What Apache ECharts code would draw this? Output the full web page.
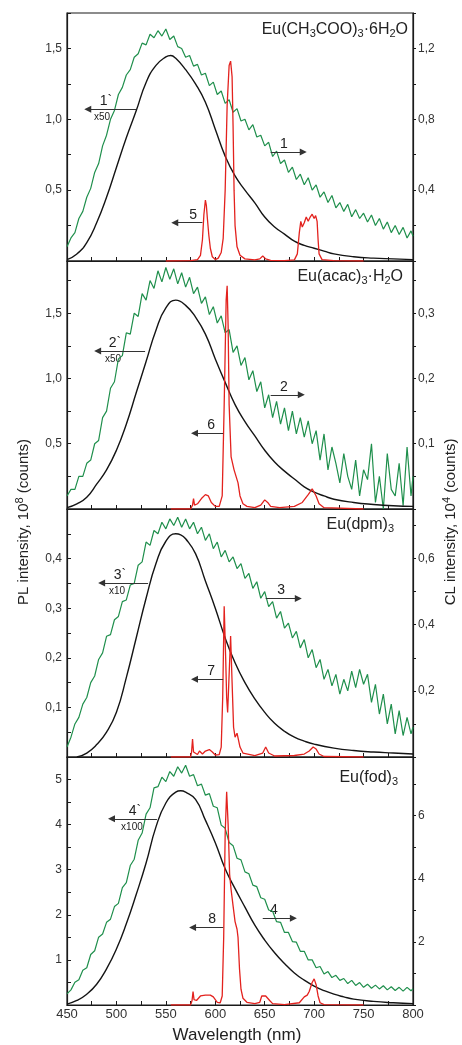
<!DOCTYPE html>
<html>
<head>
<meta charset="UTF-8">
<title>PL / CL spectra of Eu complexes</title>
<style>
  html, body { margin: 0; padding: 0; background: #fff; }
  #main { width: 462px; height: 1045px; }
</style>
</head>
<body>
<div id="main"></div>
<script src="https://cdn.jsdelivr.net/npm/echarts@6.0.0/dist/echarts.min.js"></script>
<script type="text/javascript">
// wavelength grid of the CL (green) curves, nm
const wl = [450,454,458,462,466,470,474,478,482,486,
            490,494,498,502,506,510,514,518,522,526,
            530,534,538,542,546,550,554,558,562,566,
            570,574,578,582,586,590,594,598,602,606,
            610,614,618,622,626,630,634,638,642,646,
            650,654,658,662,666,670,674,678,682,686,
            690,694,698,702,706,710,714,718,722,726,
            730,734,738,742,746,750,754,758,762,766,
            770,774,778,782,786,790,794,798,800];

// CL curves 1..4 (right axes)
const cl1 = [0.08,0.13,0.16,0.24,0.28,0.36,0.41,0.50,0.55,0.65,
             0.71,0.80,0.85,0.94,0.98,1.05,1.08,1.15,1.17,1.23,
             1.22,1.28,1.26,1.30,1.27,1.31,1.25,1.27,1.21,1.20,
             1.15,1.16,1.10,1.11,1.05,1.06,0.99,1.01,0.94,0.96,
             0.89,0.91,0.84,0.86,0.79,0.80,0.74,0.77,0.70,0.71,
             0.65,0.67,0.59,0.62,0.55,0.57,0.50,0.53,0.46,0.49,
             0.43,0.47,0.40,0.43,0.36,0.39,0.33,0.37,0.30,0.33,
             0.28,0.32,0.25,0.29,0.24,0.27,0.22,0.26,0.20,0.24,
             0.18,0.22,0.16,0.20,0.15,0.19,0.13,0.17,0.14];
const cl2 = [0.02,0.03,0.03,0.05,0.05,0.07,0.075,0.10,0.105,0.14,
             0.15,0.185,0.195,0.23,0.235,0.27,0.268,0.30,0.295,0.33,
             0.32,0.35,0.338,0.365,0.348,0.37,0.352,0.368,0.345,0.362,
             0.34,0.355,0.33,0.34,0.315,0.325,0.298,0.31,0.285,0.296,
             0.27,0.275,0.24,0.25,0.22,0.232,0.198,0.212,0.18,0.195,
             0.155,0.175,0.14,0.165,0.13,0.155,0.12,0.15,0.115,0.14,
             0.11,0.135,0.10,0.12,0.075,0.115,0.06,0.095,0.07,0.04,
             0.085,0.05,0.03,0.075,0.02,0.06,0.045,0.10,0.01,0.05,
             0.0,0.085,0.03,0.02,0.07,0.005,0.095,0.02,0.05];
const cl3 = [0.03,0.06,0.10,0.12,0.16,0.18,0.225,0.245,0.295,0.315,
             0.365,0.37,0.415,0.425,0.47,0.475,0.52,0.525,0.58,0.59,
             0.65,0.64,0.685,0.675,0.71,0.69,0.72,0.70,0.725,0.695,
             0.72,0.69,0.71,0.675,0.695,0.655,0.675,0.63,0.65,0.605,
             0.625,0.59,0.605,0.57,0.585,0.54,0.555,0.51,0.53,0.48,
             0.50,0.455,0.47,0.42,0.44,0.39,0.405,0.36,0.38,0.33,
             0.355,0.30,0.325,0.27,0.295,0.235,0.265,0.215,0.25,0.19,
             0.235,0.20,0.26,0.21,0.265,0.22,0.25,0.165,0.22,0.13,
             0.19,0.10,0.16,0.07,0.14,0.065,0.12,0.07,0.09];
const cl4 = [0.35,0.48,0.72,0.80,1.10,1.18,1.60,1.72,2.15,2.25,
             2.62,2.72,3.12,3.22,3.72,3.88,4.42,4.62,5.22,5.45,
             6.05,6.25,6.88,6.92,7.22,7.08,7.40,7.25,7.55,7.35,
             7.60,7.25,7.30,6.95,7.00,6.65,6.70,6.30,6.25,5.70,
             5.60,5.15,5.05,4.65,4.60,4.22,4.16,3.80,3.75,3.40,
             3.35,3.01,2.97,2.64,2.62,2.30,2.30,2.01,1.99,1.70,
             1.70,1.43,1.43,1.18,1.22,0.98,1.06,0.87,0.94,0.78,
             0.84,0.68,0.78,0.62,0.71,0.56,0.66,0.53,0.63,0.51,
             0.61,0.48,0.58,0.46,0.56,0.44,0.56,0.45,0.52];

// PL curves 1`..4` (black, left axes), [nm, value]
const pl1 = [[450,0.01],[460,0.05],[470,0.13],[480,0.27],[490,0.45],[500,0.66],[510,0.87],[520,1.06],
             [530,1.26],[540,1.38],[550,1.44],[555,1.45],[560,1.43],[570,1.35],[580,1.25],[590,1.12],
             [600,0.93],[610,0.74],[620,0.60],[630,0.50],[640,0.41],[650,0.31],[660,0.24],[670,0.19],
             [680,0.14],[690,0.11],[700,0.09],[710,0.07],[720,0.05],[740,0.03],[760,0.02],[780,0.015],[800,0.01]];
const pl2 = [[450,0.01],[460,0.04],[470,0.09],[480,0.19],[490,0.30],[500,0.45],[510,0.65],[520,0.89],
             [530,1.13],[540,1.37],[550,1.54],[560,1.60],[570,1.56],[580,1.47],[590,1.34],[600,1.15],
             [610,0.97],[620,0.80],[630,0.67],[640,0.56],[650,0.45],[660,0.36],[670,0.29],[680,0.23],
             [690,0.17],[700,0.13],[710,0.10],[720,0.075],[740,0.05],[760,0.035],[780,0.025],[800,0.02]];
const pl3 = [[460,0.0],[470,0.008],[480,0.025],[490,0.05],[500,0.09],[510,0.16],[520,0.24],[530,0.32],
             [540,0.39],[550,0.435],[560,0.45],[565,0.448],[570,0.44],[580,0.41],[590,0.355],[600,0.30],
             [610,0.24],[620,0.19],[630,0.15],[640,0.117],[650,0.09],[660,0.068],[670,0.052],[680,0.04],
             [690,0.032],[700,0.026],[720,0.018],[740,0.013],[760,0.01],[780,0.008],[800,0.006]];
const pl4 = [[450,0.02],[460,0.10],[470,0.24],[480,0.46],[490,0.80],[500,1.24],[510,1.80],[520,2.45],
             [530,3.15],[540,3.95],[550,4.48],[560,4.72],[565,4.75],[570,4.72],[580,4.56],[590,4.10],
             [600,3.60],[610,3.02],[620,2.58],[630,2.17],[640,1.77],[650,1.44],[660,1.16],[670,0.92],
             [680,0.71],[690,0.55],[700,0.42],[710,0.32],[720,0.24],[730,0.18],[740,0.13],[760,0.08],
             [780,0.05],[800,0.03]];

// PL line spectra 5..8 (red, left axes)
const ln5 = [[550,0],[575,0.002],[582,0.01],[585,0.04],[587,0.15],[588.5,0.33],[590,0.43],[591,0.39],
             [592,0.30],[593.5,0.18],[595,0.09],[597,0.03],[600,0.01],[603,0.02],[606,0.06],[608,0.16],
             [610,0.5],[612,1.1],[614,1.38],[615.5,1.41],[617,1.3],[618,0.95],[619,0.5],[620,0.25],
             [622,0.1],[625,0.04],[630,0.015],[640,0.008],[645,0.015],[648,0.035],[651,0.015],[656,0.005],
             [670,0.003],[680,0.008],[683,0.05],[685,0.2],[686.5,0.28],[688,0.24],[690,0.27],[692,0.31],
             [694,0.28],[696,0.31],[698,0.33],[700,0.30],[701.5,0.32],[703,0.28],[704,0.15],[705,0.05],
             [708,0.01],[720,0.003],[750,0]];
const ln6 = [[555,0],[575,0],[577,0.03],[578,0.08],[579,0.03],[582,0.04],[586,0.08],[590,0.11],
             [593,0.10],[596,0.05],[600,0.02],[604,0.02],[607,0.1],[609,0.8],[611,1.6],[612,1.71],
             [613,1.4],[614,0.8],[616,0.4],[619,0.3],[621,0.29],[623,0.2],[625,0.1],[628,0.04],
             [632,0.02],[640,0.01],[646,0.03],[650,0.07],[653,0.05],[656,0.02],[665,0.01],[680,0.02],
             [688,0.05],[694,0.11],[698,0.155],[700,0.15],[702,0.1],[705,0.04],[710,0.01],[750,0]];
const ln7 = [[555,0],[575,0],[576,0.01],[577,0.036],[578,0.01],[582,0.005],[584,0.012],[587,0.006],
             [590,0.012],[594,0.015],[597,0.01],[600,0.004],[604,0.005],[606,0.02],[607.5,0.12],[609,0.304],
             [610.5,0.2],[611.5,0.12],[612.5,0.09],[613.5,0.14],[615.5,0.244],[617,0.15],[618.5,0.06],
             [620,0.04],[622,0.048],[623,0.044],[625,0.02],[628,0.008],[640,0.003],[648,0.008],[651,0.02],
             [654,0.008],[660,0.002],[680,0.003],[690,0.006],[695,0.012],[699,0.02],[702,0.016],
             [705,0.006],[710,0.001],[750,0]];
const ln8 = [[555,0],[575,0.0],[576.5,0.1],[577.5,0.3],[578.5,0.12],[581,0.1],[585,0.2],[590,0.22],
             [595,0.22],[598,0.18],[602,0.06],[605,0.05],[607,0.2],[608.5,1.5],[610,3.8],[611.5,4.73],
             [613,4.0],[614.5,2.9],[616,2.56],[618,2.2],[620,1.85],[622,1.68],[623,1.5],[624.5,0.8],
             [626,0.35],[628,0.15],[632,0.06],[640,0.03],[645,0.06],[647,0.2],[649,0.24],[651,0.2],
             [653,0.2],[655,0.1],[658,0.03],[670,0.01],[685,0.05],[690,0.18],[693,0.22],[695,0.3],
             [698,0.5],[700,0.58],[702,0.45],[704,0.2],[706,0.05],[710,0.01],[750,0]];

// axis ranges per panel: [max, tick step, label step, decimals]
const leftAxes  = [[1.75, 0.25, 0.5, 1], [1.9, 0.25, 0.5, 1], [0.5, 0.05, 0.1, 1], [5.5, 0.5, 1, 0]];
const rightAxes = [[1.4, 0.2, 0.4, 1], [0.38, 0.05, 0.1, 1], [0.75, 0.1, 0.2, 1], [7.86, 1, 2, 0]];

const clData = [cl1, cl2, cl3, cl4];
const plData = [pl1, pl2, pl3, pl4];
const lnData = [ln5, ln6, ln7, ln8];

// arrows: panel, axis side, from, to (nm), level, label, label x (nm), small text
const notes = [
  [0, 'L', 520, 471, 1.07,  '1`', 489.4, 'x50',  485.4],
  [0, 'R', 656, 689, 0.615, '1',  669.5],
  [0, 'L', 587, 559, 0.27,  '5',  577.5],
  [1, 'L', 529, 481, 1.21,  '2`', 498.6, 'x50',  496.5],
  [1, 'R', 656, 687, 0.175, '2',  669.5],
  [1, 'L', 608, 579, 0.58,  '6',  595.7],
  [2, 'L', 532, 485, 0.351, '3`', 503.6, 'x10',  500.6],
  [2, 'R', 651, 684, 0.479, '3',  666.5],
  [2, 'L', 608, 579, 0.157, '7',  595.7],
  [3, 'L', 541, 495, 4.13,  '4`', 518.8, 'x100', 515.7],
  [3, 'R', 648, 679, 2.75,  '4',  659.4],
  [3, 'L', 608, 577, 1.72,  '8',  596.7]
];

const FONT = 'Liberation Sans, Arial, Helvetica, sans-serif';
const GREEN = '#1f8f4c', RED = '#e3221e', BLACK = '#141414';
const TOP = 13, H = 248;

function yAxis(gi, pos, cfg) {
  const [max, step, lab, dec] = cfg;
  return {
    type: 'value', gridIndex: gi, position: pos, min: 0, max: max, interval: step,
    axisLine: { show: true, lineStyle: { color: '#1a1a1a', width: 1.2 } },
    axisTick: { show: true, inside: pos === 'left', length: pos === 'left' ? 4 : 3,
                lineStyle: { color: '#1a1a1a', width: 1 } },
    splitLine: { show: false },
    axisLabel: {
      margin: 5, fontSize: 12, color: '#333', fontFamily: FONT,
      showMinLabel: true, showMaxLabel: true,
      formatter: function (v) {
        if (v <= 1e-9 || v >= max - 1e-9) return '';
        const r = v / lab;
        if (Math.abs(r - Math.round(r)) > 1e-6) return '';
        return v.toFixed(dec).replace('.', ',');
      }
    }
  };
}

const grids = [], xAxes = [], yAxes = [], series = [];
for (let i = 0; i < 4; i++) {
  grids.push({ left: 67, right: 49, top: TOP + H * i, height: H, show: true,
               borderColor: '#1a1a1a', borderWidth: 1.2 });
  xAxes.push({
    type: 'value', gridIndex: i, min: 450, max: 800, interval: 25,
    axisLine: { show: true, lineStyle: { color: '#1a1a1a', width: 1.2 } },
    axisTick: { show: true, inside: true, length: 4, lineStyle: { color: '#1a1a1a' } },
    splitLine: { show: false },
    axisLabel: {
      show: i === 3, margin: 3, fontSize: 13, color: '#333', fontFamily: FONT,
      showMinLabel: true, showMaxLabel: true,
      formatter: v => (v % 50 === 0 ? String(v) : '')
    }
  });
  yAxes.push(yAxis(i, 'left', leftAxes[i]), yAxis(i, 'right', rightAxes[i]));

  const arrowsOf = side => ({
    silent: true, animation: false, symbol: ['none', 'triangle'], symbolSize: 7,
    label: { show: false },
    lineStyle: { color: '#333', width: 1, type: 'solid' },
    emphasis: { disabled: true },
    data: notes.filter(n => n[0] === i && n[1] === side)
               .map(n => [{ coord: [n[2], n[4]] }, { coord: [n[3], n[4]] }])
  });

  series.push({
    type: 'line', xAxisIndex: i, yAxisIndex: 2 * i + 1,
    data: wl.map((x, k) => [x, clData[i][k]]),
    showSymbol: false, lineStyle: { color: GREEN, width: 1.2 },
    markLine: arrowsOf('R')
  });
  series.push({
    type: 'line', xAxisIndex: i, yAxisIndex: 2 * i, data: plData[i], smooth: 0.5,
    showSymbol: false, lineStyle: { color: BLACK, width: 1.4 },
    markLine: arrowsOf('L')
  });
  series.push({
    type: 'line', xAxisIndex: i, yAxisIndex: 2 * i, data: lnData[i],
    showSymbol: false, lineStyle: { color: RED, width: 1.3 }
  });
}

const chart = echarts.init(document.getElementById('main'));
chart.setOption({
  animation: false,
  backgroundColor: '#fff',
  grid: grids, xAxis: xAxes, yAxis: yAxes, series: series
});

// titles, axis names and arrow labels
const sub = { fontSize: 11, fontFamily: FONT, fill: '#222', lineHeight: 11, padding: [8, 0, 0, 0] };
const nrm = { fontSize: 16, fontFamily: FONT, fill: '#222', lineHeight: 19 };
const sup = { fontSize: 11, fontFamily: FONT, fill: '#222', lineHeight: 11, padding: [0, 0, 8, 0] };
const nm15 = { fontSize: 15, fontFamily: FONT, fill: '#222', lineHeight: 19 };

function title(x, y, text) {
  return { type: 'text', x: x, y: y, silent: true,
           style: { text: text, rich: { n: nrm, s: sub }, align: 'right', verticalAlign: 'middle',
                    fill: '#222', fontFamily: FONT, fontSize: 16 } };
}
const graphics = [
  title(408, 30,  '{n|Eu(CH}{s|3}{n|COO)}{s|3}{n|·6H}{s|2}{n|O}'),
  title(403, 277, '{n|Eu(acac)}{s|3}{n|·H}{s|2}{n|O}'),
  title(394, 525, '{n|Eu(dpm)}{s|3}'),
  title(398, 778, '{n|Eu(fod)}{s|3}'),
  { type: 'text', x: 24, y: 522, rotation: Math.PI / 2, silent: true,
    style: { text: '{n|PL intensity, 10}{p|8}{n| (counts)}', rich: { n: nm15, p: sup },
             align: 'center', verticalAlign: 'middle', fill: '#222' } },
  { type: 'text', x: 451, y: 522, rotation: Math.PI / 2, silent: true,
    style: { text: '{n|CL intensity, 10}{p|4}{n| (counts)}', rich: { n: nm15, p: sup },
             align: 'center', verticalAlign: 'middle', fill: '#222' } },
  { type: 'text', x: 237, y: 1035, silent: true,
    style: { text: 'Wavelength (nm)', fontSize: 17, fontFamily: FONT, fill: '#222',
             align: 'center', verticalAlign: 'middle' } }
];

notes.forEach(n => {
  const si = n[1] === 'L' ? 3 * n[0] + 1 : 3 * n[0];
  const p = chart.convertToPixel({ seriesIndex: si }, [n[6], n[4]]);
  graphics.push({ type: 'text', x: p[0], y: p[1] - 8, silent: true,
    style: { text: n[5], fontSize: 14, fontFamily: FONT, fill: '#222', align: 'center', verticalAlign: 'middle' } });
  if (n[7]) {
    const q = chart.convertToPixel({ seriesIndex: si }, [n[8], n[4]]);
    graphics.push({ type: 'text', x: q[0], y: q[1] + 8, silent: true,
      style: { text: n[7], fontSize: 10, fontFamily: FONT, fill: '#222', align: 'center', verticalAlign: 'middle' } });
  }
});

chart.setOption({ graphic: graphics });
</script>
</body>
</html>
